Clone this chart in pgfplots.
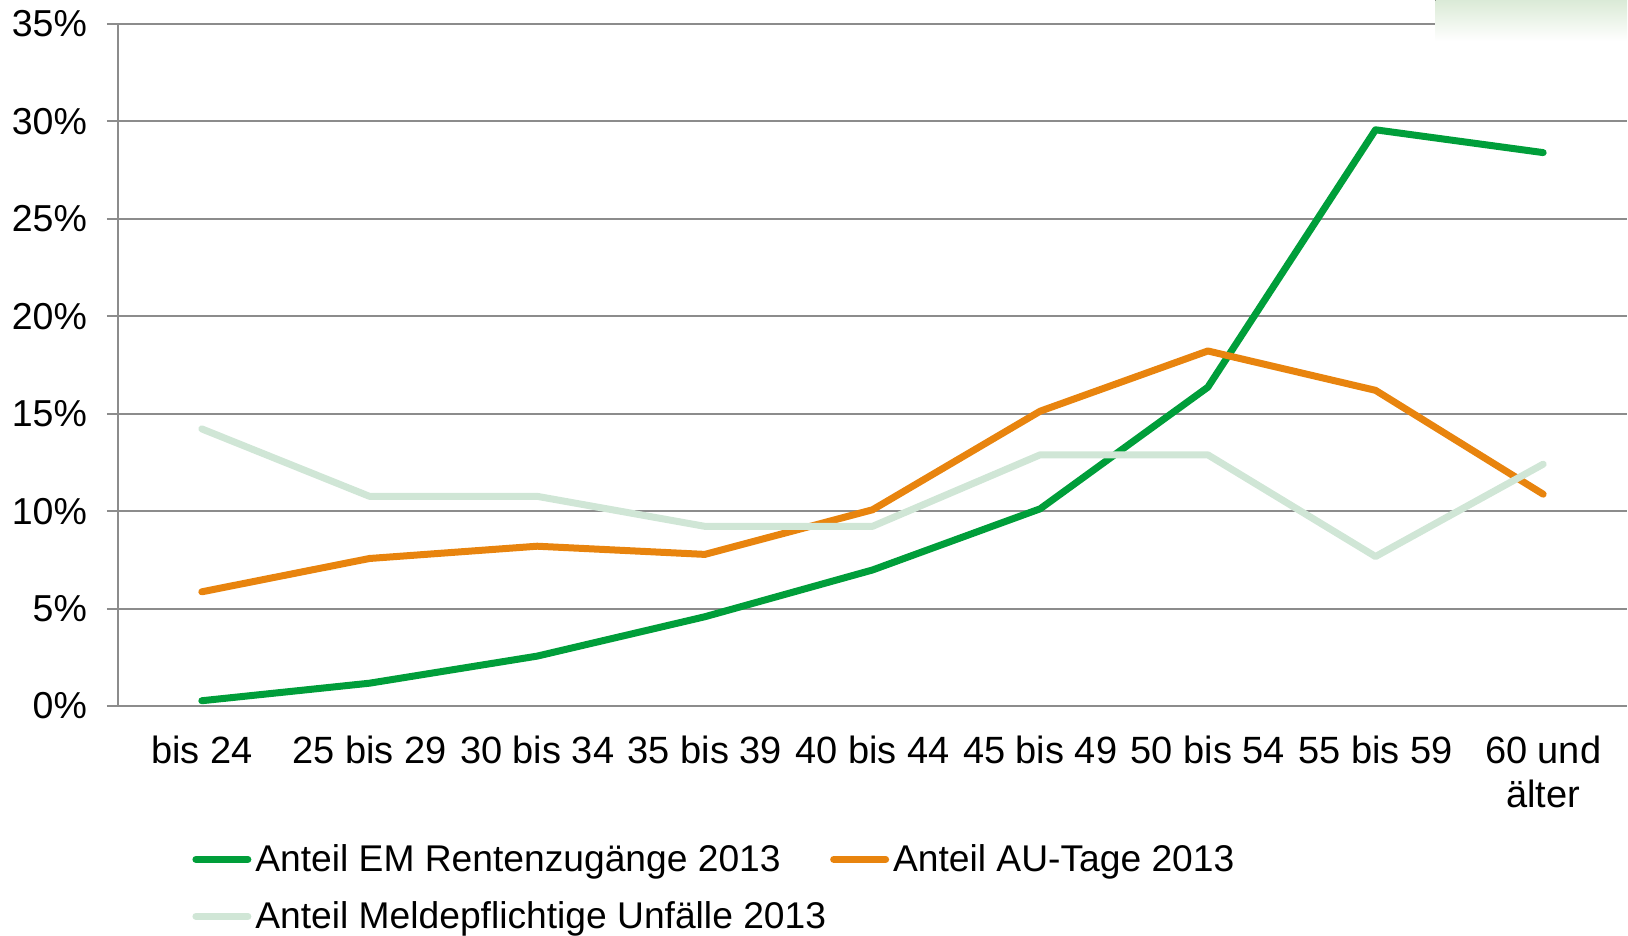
\documentclass[border=0pt]{standalone}
\usepackage{pgfplots}
\pgfplotsset{compat=1.18}
\usepackage{fontspec}
\setmainfont{Liberation Sans}
\definecolor{cEM}{RGB}{0,158,58}
\definecolor{cAU}{RGB}{232,132,14}
\definecolor{cUN}{RGB}{208,230,214}
\definecolor{cGrid}{RGB}{140,140,140}
\begin{document}
\begin{tikzpicture}
\begin{axis}[
  name=ax,
  scale only axis,
  width=754.5pt, height=341pt,
  xmin=-0.5, xmax=8.5,
  ymin=0, ymax=35,
  clip=false,
  axis lines*=left,
  axis line style={cGrid, line width=1pt, -},
  font=\fontsize{18.75}{22.5}\selectfont,
  /pgf/number format/assume math mode=true,
  xtick={0,...,8},
  xticklabels={bis 24,25 bis 29,30 bis 34,35 bis 39,40 bis 44,45 bis 49,50 bis 54,55 bis 59,{60 und\\älter}},
  x tick label style={align=center, yshift=-6pt, text depth=0pt, font=\fontsize{19}{22.2}\selectfont},
  xtick style={draw=none},
  extra x ticks={-0.5,0.5,1.5,2.5,3.5,4.5,5.5,6.5,7.5,8.5},
  extra x tick labels={},
  extra x tick style={tick style={draw=cGrid, line width=1pt}, major tick length=5.5pt, tick align=outside, tick pos=lower, grid=none},
  ytick={0,5,...,35},
  yticklabel={\pgfmathprintnumber{\tick}\%},
  y tick label style={xshift=-6.5pt},
  ytick style={draw=cGrid, line width=1pt},
  major tick length=5.5pt,
  tick align=outside,
  tick pos=lower,
  ymajorgrids,
  major grid style={cGrid, line width=1pt},
  legend columns=2,
  legend cell align=left,
  legend style={draw=none, fill=none, at={(0,0)}, anchor=north west, xshift=37pt, yshift=-67pt,
    /tikz/every even column/.append style={column sep=0pt},
    row sep=9.5pt, font=\fontsize{18.6}{22.3}\selectfont, inner sep=0pt},
  legend image code/.code={\draw[#1, line cap=round, line width=3.5pt] (0pt,0pt) -- (26pt,0pt);},
]
\fill[top color={rgb,255:red,218;green,234;blue,214}, bottom color=white, draw=none]
  (rel axis cs:0.873,1.036) rectangle (rel axis cs:1.0,0.975);
\addplot[cEM, line width=3.5pt, line join=round, line cap=round] coordinates {
 (0,0.27) (1,1.17) (2,2.56) (3,4.58) (4,6.98) (5,10.12) (6,16.36) (7,29.57) (8,28.4)};
\addlegendentry{Anteil EM Rentenzugänge 2013}
\addplot[cAU, line width=3.5pt, line join=round, line cap=round] coordinates {
 (0,5.86) (1,7.57) (2,8.2) (3,7.78) (4,10.07) (5,15.13) (6,18.22) (7,16.2) (8,10.87)};
\addlegendentry{Anteil AU-Tage 2013}
\addplot[cUN, line width=3.5pt, line join=round, line cap=round] coordinates {
 (0,14.22) (1,10.76) (2,10.76) (3,9.22) (4,9.22) (5,12.89) (6,12.89) (7,7.67) (8,12.41)};
\addlegendentry{Anteil Meldepflichtige Unfälle 2013}
\end{axis}
\pgfresetboundingbox
\path (ax.south west) ++(-59pt,-115pt) rectangle ++(814pt,468pt);
\end{tikzpicture}
\end{document}
